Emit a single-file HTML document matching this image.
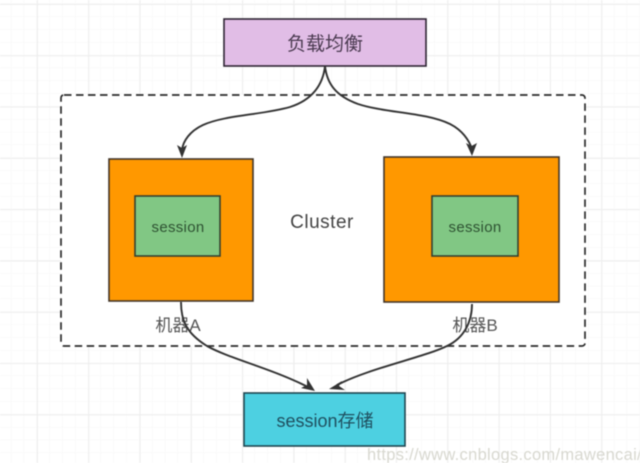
<!DOCTYPE html>
<html><head><meta charset="utf-8"><style>
html,body{margin:0;padding:0;background:#fff;width:640px;height:463px;overflow:hidden}
svg{display:block;filter:blur(.4px)}
text{font-family:"Liberation Sans","Noto Sans CJK SC",sans-serif}
</style></head><body>
<svg width="640" height="463" viewBox="0 0 640 463" xmlns="http://www.w3.org/2000/svg">
<defs>
<pattern id="minor" width="12.83" height="12.83" patternUnits="userSpaceOnUse" x="-1.5" y="4"><path d="M12.83 0V12.83M0 12.83H12.83" fill="none" stroke="#f6f6f6" stroke-width="1"/></pattern>
<pattern id="major" width="51.3" height="51.3" patternUnits="userSpaceOnUse" x="37" y="4"><path d="M.5 0V51.3M0 .5H51.3" fill="none" stroke="#eeeeee" stroke-width="1"/></pattern>
</defs>
<rect width="640" height="463" fill="#fff"/>
<rect width="640" height="463" fill="url(#minor)"/>
<rect width="640" height="463" fill="url(#major)"/>
<rect x="61" y="95" width="524" height="251" rx="3" fill="#fff" stroke="#2b2b2b" stroke-width="1.7" stroke-dasharray="7.5 4.5"/>
<rect x="224" y="19" width="202" height="47" fill="#e1bde6" stroke="#2e2433" stroke-width="1.6"/>
<text x="325" y="50" font-size="19" fill="#4a3a50" text-anchor="middle">负载均衡</text>
<rect x="109" y="159" width="144" height="142" fill="#ff9800" stroke="#43362a" stroke-width="1.6"/>
<rect x="135" y="196" width="85" height="60" fill="#81c784" stroke="#35402f" stroke-width="1.6"/>
<text x="178" y="232" font-size="15" fill="#2e5232" text-anchor="middle" letter-spacing=".3">session</text>
<rect x="384" y="157" width="175" height="145" fill="#ff9800" stroke="#43362a" stroke-width="1.6"/>
<rect x="432" y="196" width="86" height="60" fill="#81c784" stroke="#35402f" stroke-width="1.6"/>
<text x="475" y="232" font-size="15" fill="#2e5232" text-anchor="middle" letter-spacing=".3">session</text>
<text x="322" y="228" font-size="19" fill="#444" text-anchor="middle" letter-spacing=".5">Cluster</text>
<text x="178" y="331" font-size="17" fill="#555" text-anchor="middle">机器A</text>
<text x="475" y="331" font-size="17" fill="#555" text-anchor="middle">机器B</text>
<rect x="244" y="393" width="161" height="53" fill="#4dd0e1" stroke="#1e4650" stroke-width="1.6"/>
<text x="325" y="427" font-size="18" fill="#1f5060" text-anchor="middle">session存储</text>
<g fill="none" stroke="#333" stroke-width="1.9">
<path d="M325 66C323 85 312 100 290 107C262 115 225 115 203 125C190 131 183 141 182 150"/>
<path d="M325 66C327 84 336 96 358 104C385 113 425 112 450 124C462 130 469 140 472 149"/>
<path d="M181 302C181 320 186 333 207 346C228 358 270 368 306 386"/>
<path d="M472 304C472 322 464 338 447 346C425 357 370 368 337 385"/>
</g>
<g fill="#333">
<path d="M182 158L177 145L182 148L187 145Z"/>
<path d="M472 156L466 143L471.500 146L477 143Z"/>
<path d="M315 391L301 388L307 385L307 378Z"/>
<path d="M329 389L342 381L339 386L345 390Z"/>
</g>
<text x="367" y="460" font-size="16.5" fill="#d8d8d0" letter-spacing=".3">https://www.cnblogs.com/mawencai/</text>
</svg>
</body></html>
